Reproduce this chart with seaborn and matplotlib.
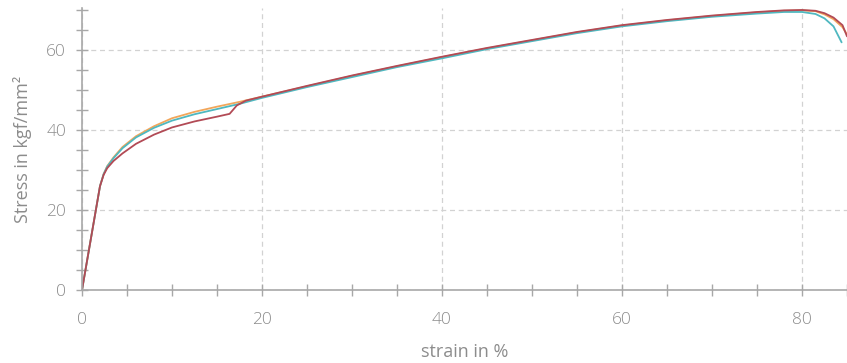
import matplotlib
matplotlib.use("Agg")
import matplotlib.pyplot as plt
import seaborn as sns
import pandas as pd
from matplotlib.ticker import MultipleLocator

# ---- data ----
strain_orange = [0, 0.5, 1, 1.5, 2, 2.4, 2.8, 3.5, 4.5, 6, 8, 10, 12.5, 15, 17.5, 20,
                 25, 30, 35, 40, 45, 50, 55, 60, 65, 70, 75, 78, 80, 81.5, 82.5, 83.5, 84.5, 85]
stress_orange = [0, 6.5, 13, 19.5, 26, 29, 31, 33.2, 35.8, 38.5, 41, 43, 44.6, 45.9, 47.1, 48.4,
                 51, 53.6, 56, 58.3, 60.5, 62.5, 64.5, 66.2, 67.5, 68.6, 69.5, 69.9, 70, 69.8, 69, 67.8, 65.8, 64]

strain_teal = [0, 0.5, 1, 1.5, 2, 2.4, 2.8, 3.5, 4.5, 6, 8, 10, 12.5, 15, 17.5, 20,
               25, 30, 35, 40, 45, 50, 55, 60, 65, 70, 75, 78, 80, 81.5, 82.5, 83.5, 84.4]
stress_teal = [0, 6.5, 13, 19.5, 26, 29, 30.9, 33, 35.5, 38.2, 40.6, 42.4, 44, 45.3, 46.6, 48.1,
               50.8, 53.3, 55.8, 58, 60.3, 62.3, 64.3, 66, 67.3, 68.4, 69.2, 69.6, 69.6, 69.1, 68, 66, 62]

strain_red = [0, 0.5, 1, 1.5, 2, 2.4, 2.8, 3.5, 4.5, 6, 8, 10, 12.5, 15, 16.4, 17.2, 18.2, 20,
              25, 30, 35, 40, 45, 50, 55, 60, 65, 70, 75, 78, 80, 81.5, 82.5, 83.5, 84.5, 85]
stress_red = [0, 6.5, 13, 19.5, 26, 28.8, 30.5, 32.3, 34.2, 36.6, 38.9, 40.7, 42.2, 43.4, 44.1, 46.2, 47.4, 48.4,
              51.1, 53.7, 56.1, 58.4, 60.6, 62.6, 64.6, 66.3, 67.6, 68.7, 69.6, 70, 70.1, 69.9, 69.3, 68.2, 66.3, 63.5]

series_names = ["orange", "teal", "red"]
series_colors = ["#f2a65a", "#4fb8c0", "#b24a55"]

frames = []
for name, xs, ys in [("orange", strain_orange, stress_orange),
                     ("teal", strain_teal, stress_teal),
                     ("red", strain_red, stress_red)]:
    frames.append(pd.DataFrame({"strain": xs, "stress": ys, "series": name}))
df = pd.concat(frames, ignore_index=True)

sns.set_theme(style="white")
plt.rcParams["font.family"] = ["Open Sans", "DejaVu Sans"]
plt.rcParams["font.weight"] = "light"

fig = plt.figure(figsize=(8.47, 3.63), dpi=100)
ax = fig.add_axes([0.0968, 0.201, 0.9032, 0.777])

sns.lineplot(data=df, x="strain", y="stress", hue="series", hue_order=series_names,
             palette=series_colors, sort=False, linewidth=1.3, legend=False, ax=ax,
             estimator=None)

ax.set_xlim(0, 85)
ax.set_ylim(0, 70.6)

ax.xaxis.set_major_locator(MultipleLocator(20))
ax.xaxis.set_minor_locator(MultipleLocator(5))
ax.yaxis.set_major_locator(MultipleLocator(20))
ax.yaxis.set_minor_locator(MultipleLocator(5))

gray = "#a8a8a8"
for s in ["top", "right"]:
    ax.spines[s].set_visible(False)
for s in ["left", "bottom"]:
    ax.spines[s].set_color(gray)
    ax.spines[s].set_linewidth(1.2)

ax.tick_params(which="both", bottom=True, left=True, top=False, right=False,
               direction="inout", length=9, width=1, color=gray,
               labelcolor="#8c8c8c", labelsize=12.5)
ax.tick_params(axis="x", which="major", pad=11)
ax.tick_params(axis="y", which="major", pad=7)

ax.grid(True, which="major", color="#d2d2d2", linestyle=(0, (4, 3)), linewidth=0.9)
ax.set_axisbelow(True)

ax.set_xlabel("strain in %", color="#8c8c8c", fontsize=13, labelpad=11)
ax.set_ylabel("Stress in kgf/mm²", color="#8c8c8c", fontsize=13, labelpad=10)

fig.savefig("out.png", dpi=100)
